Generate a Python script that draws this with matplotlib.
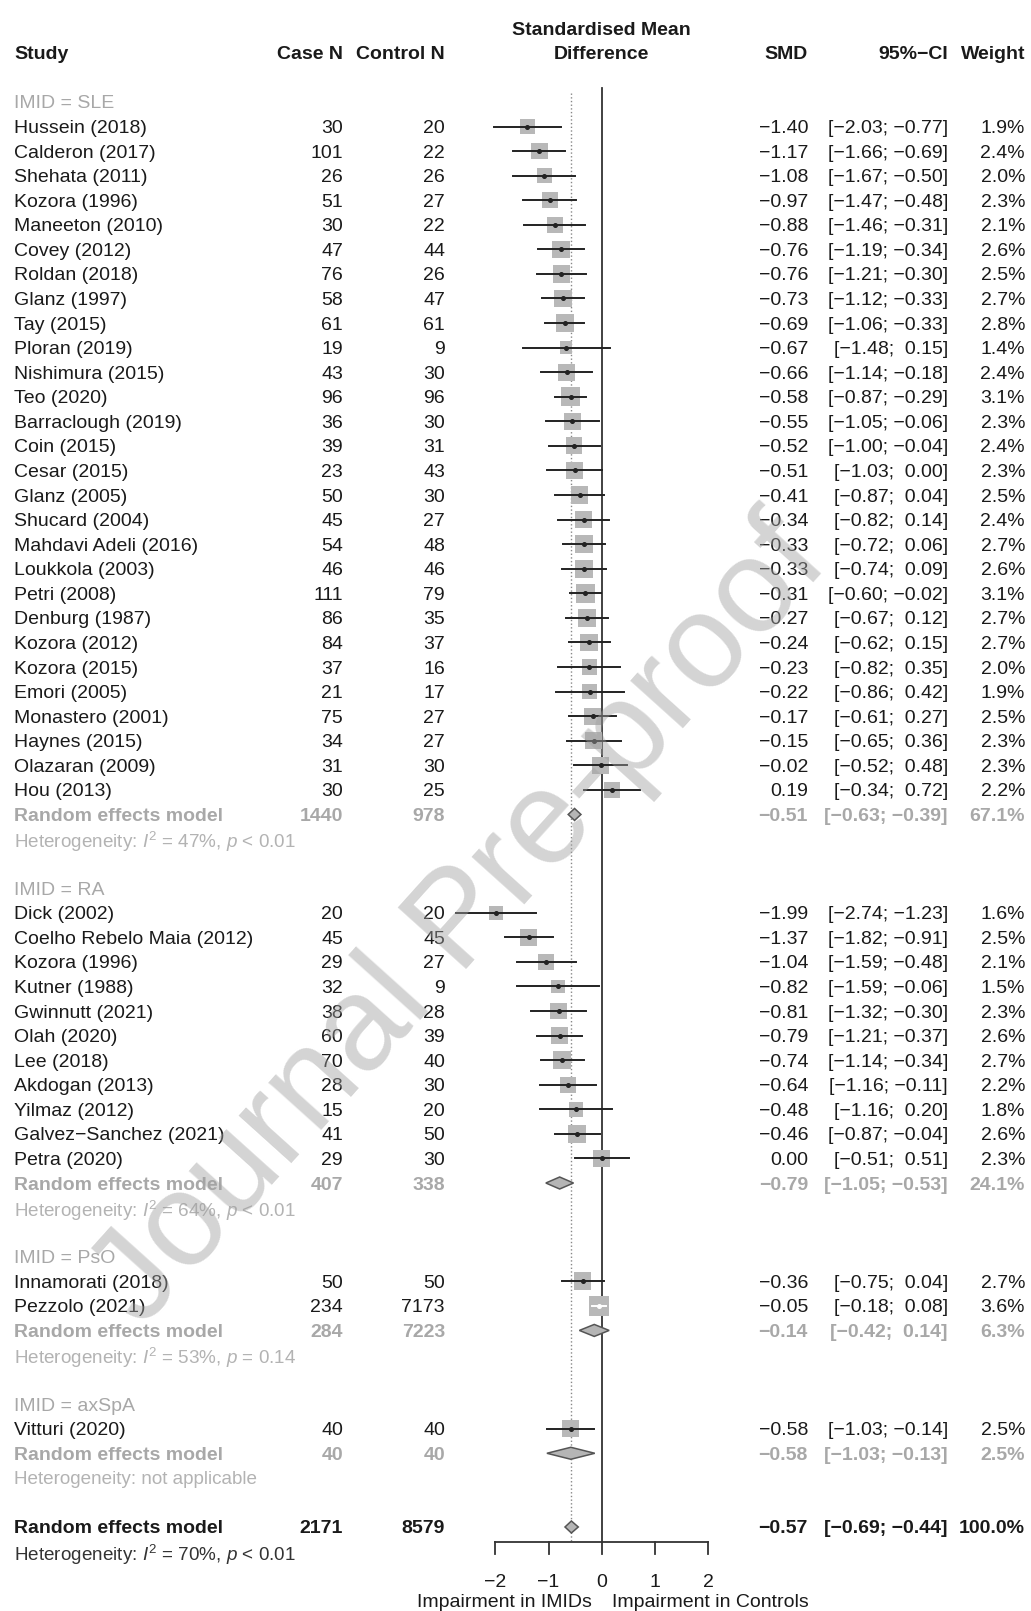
import matplotlib
matplotlib.use("Agg")
import matplotlib.pyplot as plt
from matplotlib.patches import Rectangle, Polygon
from matplotlib import transforms

plt.rcParams['font.family'] = 'Liberation Sans'
plt.rcParams['mathtext.fontset'] = 'custom'
plt.rcParams['mathtext.rm'] = 'Liberation Sans'
plt.rcParams['mathtext.it'] = 'Liberation Sans:italic'

# --- SLE ---
sle_study = ["Hussein (2018)", "Calderon (2017)", "Shehata (2011)", "Kozora (1996)",
             "Maneeton (2010)", "Covey (2012)", "Roldan (2018)", "Glanz (1997)",
             "Tay (2015)", "Ploran (2019)", "Nishimura (2015)", "Teo (2020)",
             "Barraclough (2019)", "Coin (2015)", "Cesar (2015)", "Glanz (2005)",
             "Shucard (2004)", "Mahdavi Adeli (2016)", "Loukkola (2003)", "Petri (2008)",
             "Denburg (1987)", "Kozora (2012)", "Kozora (2015)", "Emori (2005)",
             "Monastero (2001)", "Haynes (2015)", "Olazaran (2009)", "Hou (2013)"]
sle_case = [30, 101, 26, 51, 30, 47, 76, 58, 61, 19, 43, 96, 36, 39, 23, 50, 45, 54, 46, 111,
            86, 84, 37, 21, 75, 34, 31, 30]
sle_ctrl = [20, 22, 26, 27, 22, 44, 26, 47, 61, 9, 30, 96, 30, 31, 43, 30, 27, 48, 46, 79,
            35, 37, 16, 17, 27, 27, 30, 25]
sle_smd = [-1.40, -1.17, -1.08, -0.97, -0.88, -0.76, -0.76, -0.73, -0.69, -0.67, -0.66, -0.58,
           -0.55, -0.52, -0.51, -0.41, -0.34, -0.33, -0.33, -0.31, -0.27, -0.24, -0.23, -0.22,
           -0.17, -0.15, -0.02, 0.19]
sle_lo = [-2.03, -1.66, -1.67, -1.47, -1.46, -1.19, -1.21, -1.12, -1.06, -1.48, -1.14, -0.87,
          -1.05, -1.00, -1.03, -0.87, -0.82, -0.72, -0.74, -0.60, -0.67, -0.62, -0.82, -0.86,
          -0.61, -0.65, -0.52, -0.34]
sle_hi = [-0.77, -0.69, -0.50, -0.48, -0.31, -0.34, -0.30, -0.33, -0.33, 0.15, -0.18, -0.29,
          -0.06, -0.04, 0.00, 0.04, 0.14, 0.06, 0.09, -0.02, 0.12, 0.15, 0.35, 0.42,
          0.27, 0.36, 0.48, 0.72]
sle_w = [1.9, 2.4, 2.0, 2.3, 2.1, 2.6, 2.5, 2.7, 2.8, 1.4, 2.4, 3.1, 2.3, 2.4, 2.3, 2.5, 2.4,
         2.7, 2.6, 3.1, 2.7, 2.7, 2.0, 1.9, 2.5, 2.3, 2.3, 2.2]

# --- RA ---
ra_study = ["Dick (2002)", "Coelho Rebelo Maia (2012)", "Kozora (1996)", "Kutner (1988)",
            "Gwinnutt (2021)", "Olah (2020)", "Lee (2018)", "Akdogan (2013)",
            "Yilmaz (2012)", "Galvez\u2212Sanchez (2021)", "Petra (2020)"]
ra_case = [20, 45, 29, 32, 38, 60, 70, 28, 15, 41, 29]
ra_ctrl = [20, 45, 27, 9, 28, 39, 40, 30, 20, 50, 30]
ra_smd = [-1.99, -1.37, -1.04, -0.82, -0.81, -0.79, -0.74, -0.64, -0.48, -0.46, 0.00]
ra_lo = [-2.74, -1.82, -1.59, -1.59, -1.32, -1.21, -1.14, -1.16, -1.16, -0.87, -0.51]
ra_hi = [-1.23, -0.91, -0.48, -0.06, -0.30, -0.37, -0.34, -0.11, 0.20, -0.04, 0.51]
ra_w = [1.6, 2.5, 2.1, 1.5, 2.3, 2.6, 2.7, 2.2, 1.8, 2.6, 2.3]

# --- PsO ---
pso_study = ["Innamorati (2018)", "Pezzolo (2021)"]
pso_case = [50, 234]
pso_ctrl = [50, 7173]
pso_smd = [-0.36, -0.05]
pso_lo = [-0.75, -0.18]
pso_hi = [0.04, 0.08]
pso_w = [2.7, 3.6]

# --- axSpA ---
ax_study = ["Vitturi (2020)"]
ax_case = [40]
ax_ctrl = [40]
ax_smd = [-0.58]
ax_lo = [-1.03]
ax_hi = [-0.14]
ax_w = [2.5]

# subgroup pooled estimates: case N, control N, SMD, lower, upper, weight, heterogeneity
re_label = ["SLE", "RA", "PsO", "axSpA"]
re_case = [1440, 407, 284, 40]
re_ctrl = [978, 338, 7223, 40]
re_smd = [-0.51, -0.79, -0.14, -0.58]
re_lo = [-0.63, -1.05, -0.42, -1.03]
re_hi = [-0.39, -0.53, 0.14, -0.13]
re_w = [67.1, 24.1, 6.3, 2.5]
re_het = [r"Heterogeneity: $I^2$ = 47%, $p$ < 0.01",
          r"Heterogeneity: $I^2$ = 64%, $p$ < 0.01",
          r"Heterogeneity: $I^2$ = 53%, $p$ = 0.14",
          "Heterogeneity: not applicable"]

# overall pooled estimate
all_case, all_ctrl = 2171, 8579
all_smd, all_lo, all_hi, all_w = -0.57, -0.69, -0.44, 100.0
all_het = r"Heterogeneity: $I^2$ = 70%, $p$ < 0.01"

groups = [
    (sle_study, sle_case, sle_ctrl, sle_smd, sle_lo, sle_hi, sle_w),
    (ra_study, ra_case, ra_ctrl, ra_smd, ra_lo, ra_hi, ra_w),
    (pso_study, pso_case, pso_ctrl, pso_smd, pso_lo, pso_hi, pso_w),
    (ax_study, ax_case, ax_ctrl, ax_smd, ax_lo, ax_hi, ax_w),
]

# page geometry in pixels
W, H = 1031, 1611
X0 = 601.7      # pixel of SMD = 0
UNIT = 53.2     # pixels per SMD unit
ROW0 = 126.5    # pixel of first study row
ROWH = 24.57    # pixels per row

fig = plt.figure(figsize=(W / 100, H / 100), dpi=100)
ax = fig.add_axes([0, 0, 1, 1])
ax.set_xlim(-X0 / UNIT, (W - X0) / UNIT)
ax.set_ylim((H - ROW0) / ROWH, -ROW0 / ROWH)
ax.axis('off')
tr = transforms.blended_transform_factory(ax.transAxes, ax.transData)

BLACK = '#1a1a1a'
GREY = '#a8a8a8'
FS = 14
FS_HET = 13.6

def minus(s):
    return s.replace('-', '\u2212')

def fmt_ci(lo, hi):
    a = minus(f"{lo:.2f}")
    b = minus(f"{hi:.2f}")
    if lo >= 0:
        a = ' ' + a
    if hi >= 0:
        b = ' ' + b
    return f"[{a}; {b}]"

def row_text(r, name, n1, n2, est, lo, hi, w, color, weight):
    kw = dict(transform=tr, va='center_baseline', fontsize=FS, color=color, fontweight=weight)
    ax.text(14 / W, r, name, ha='left', **kw)
    ax.text(343 / W, r, str(n1), ha='right', **kw)
    ax.text(445 / W, r, str(n2), ha='right', **kw)
    ax.text(808 / W, r, minus(f"{est:.2f}"), ha='right', **kw)
    ax.text(948 / W, r, fmt_ci(lo, hi), ha='right', **kw)
    ax.text(1025 / W, r, f"{w:.1f}%", ha='right', **kw)

def diamond(r, est, lo, hi):
    h = 6 / ROWH
    ax.add_patch(Polygon([(lo, r), (est, r - h), (hi, r), (est, r + h)], closed=True,
                         facecolor='#b5b5b5', edgecolor='#555555', lw=1.1, zorder=4))

# header
hkw = dict(transform=tr, va='center_baseline', fontsize=FS, fontweight='bold', color=BLACK)
ax.text(14 / W, -3, "Study", ha='left', **hkw)
ax.text(343 / W, -3, "Case N", ha='right', **hkw)
ax.text(445 / W, -3, "Control N", ha='right', **hkw)
ax.text(808 / W, -3, "SMD", ha='right', **hkw)
ax.text(948 / W, -3, "95%\u2212CI", ha='right', **hkw)
ax.text(1025 / W, -3, "Weight", ha='right', **hkw)
ax.text(0, -4, "Standardised Mean", ha='center', va='center_baseline', fontsize=FS,
        fontweight='bold', color=BLACK)
ax.text(0, -3, "Difference", ha='center', va='center_baseline', fontsize=FS,
        fontweight='bold', color=BLACK)

r = -1
for gi, (study, case, ctrl, smd, lo, hi, w) in enumerate(groups):
    ax.text(14 / W, r, f"IMID = {re_label[gi]}", transform=tr, ha='left',
            va='center_baseline', fontsize=FS, color=GREY)
    r += 1
    for i in range(len(study)):
        row_text(r, study[i], case[i], ctrl[i], smd[i], lo[i], hi[i], w[i], BLACK, 'normal')
        side = 15 * (w[i] / 1.9) ** 0.5
        bw, bh = side / UNIT, side / ROWH
        ax.add_patch(Rectangle((smd[i] - bw / 2, r - bh / 2), bw, bh,
                               facecolor='#b8b8b8', edgecolor='none', zorder=2))
        # CI drawn in white when it fits inside the box
        inside = lo[i] > smd[i] - bw / 2 and hi[i] < smd[i] + bw / 2
        lc = 'white' if inside else '#222222'
        ax.plot([lo[i], hi[i]], [r, r], color=lc, lw=1.4, zorder=3)
        ax.plot(smd[i], r, 'o', color=lc, ms=2.6, zorder=3)
        r += 1
    row_text(r, "Random effects model", re_case[gi], re_ctrl[gi], re_smd[gi],
             re_lo[gi], re_hi[gi], re_w[gi], GREY, 'bold')
    diamond(r, re_smd[gi], re_lo[gi], re_hi[gi])
    r += 1
    ax.text(14 / W, r, re_het[gi], transform=tr, ha='left', va='center_baseline',
            fontsize=FS_HET, color='#b3b3b3')
    r += 2

# overall
row_text(r, "Random effects model", all_case, all_ctrl, all_smd, all_lo, all_hi,
         all_w, BLACK, 'bold')
diamond(r, all_smd, all_lo, all_hi)
ax.text(14 / W, r + 1, all_het, transform=tr, ha='left', va='center_baseline',
        fontsize=FS_HET, color='#333333')

# reference lines and x axis
axis_y = r + 0.62
ax.plot([0, 0], [-1.55, axis_y], color='#333333', lw=1.3, zorder=1)
ax.plot([all_smd, all_smd], [-1.38, axis_y], color='#888888', lw=1.0, ls=':', zorder=1)
ticks = [-2, -1, 0, 1, 2]
ax.plot([ticks[0], ticks[-1]], [axis_y, axis_y], color='#333333', lw=1.3)
for t in ticks:
    ax.plot([t, t], [axis_y, axis_y + 0.46], color='#333333', lw=1.3)
    ax.text(t, axis_y + 1.56, minus(str(t)), ha='center', va='center_baseline',
            fontsize=FS, color=BLACK)
ax.text(-0.18, axis_y + 2.38, "Impairment in IMIDs", ha='right', va='center_baseline',
        fontsize=FS, color=BLACK)
ax.text(0.19, axis_y + 2.38, "Impairment in Controls", ha='left', va='center_baseline',
        fontsize=FS, color=BLACK)

# watermark
fig.text(0.447, 0.427, "Journal Pre-proof", rotation=48, fontsize=96, color='#a0a0a0',
         alpha=0.45, ha='center', va='center', zorder=10)

fig.savefig("out.png", dpi=100)
